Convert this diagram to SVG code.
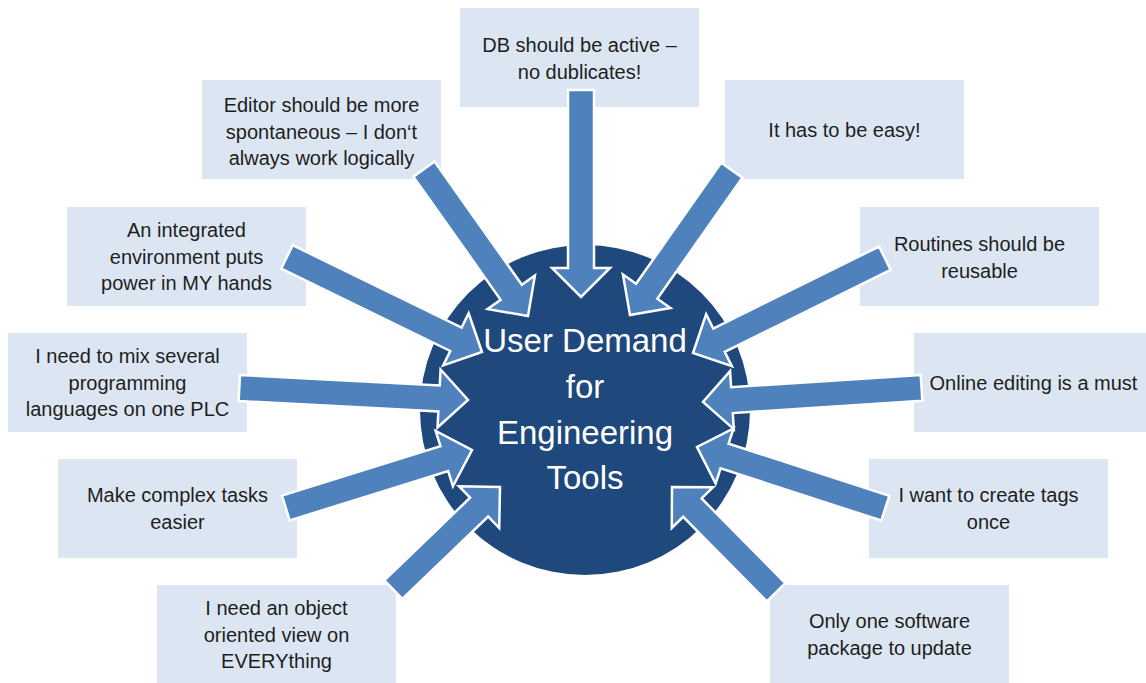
<svg xmlns="http://www.w3.org/2000/svg" width="1146" height="683" viewBox="0 0 1146 683">
<style>
.box{fill:#dce6f2}
.t{font-family:"Liberation Sans",Arial,sans-serif;font-size:20px;fill:#1e1e1e;text-anchor:middle}
.arrow{fill:#4f81bd;stroke:#ffffff;stroke-width:2.5;stroke-linejoin:miter}
.ct{font-family:"Liberation Sans",Arial,sans-serif;font-size:33px;fill:#ffffff;text-anchor:middle}
</style>
<rect width="1146" height="683" fill="#ffffff"/>
<g id="n-db"><rect class="box" x="460" y="8" width="239" height="99"/><text class="t" x="579.5" y="52">DB should be active –</text><text class="t" x="579.5" y="78.5">no dublicates!</text></g>
<g id="n-editor"><rect class="box" x="202" y="80" width="239" height="99"/><text class="t" x="321.5" y="112">Editor should be more</text><text class="t" x="321.5" y="138.5">spontaneous – I don‘t</text><text class="t" x="321.5" y="165">always work logically</text></g>
<g id="n-easy"><rect class="box" x="725" y="80" width="239" height="99"/><text class="t" x="844.5" y="137">It has to be easy!</text></g>
<g id="n-integrated"><rect class="box" x="67" y="207" width="239" height="99"/><text class="t" x="186.5" y="237">An integrated</text><text class="t" x="186.5" y="263.5">environment puts</text><text class="t" x="186.5" y="290">power in MY hands</text></g>
<g id="n-routines"><rect class="box" x="860" y="207" width="239" height="99"/><text class="t" x="979.5" y="251">Routines should be</text><text class="t" x="979.5" y="277.5">reusable</text></g>
<g id="n-mix"><rect class="box" x="8" y="333" width="239" height="99"/><text class="t" x="127.5" y="363">I need to mix several</text><text class="t" x="127.5" y="389.5">programming</text><text class="t" x="127.5" y="416">languages on one PLC</text></g>
<g id="n-online"><rect class="box" x="914" y="333" width="239" height="99"/><text class="t" x="1033.5" y="390">Online editing is a must</text></g>
<g id="n-complex"><rect class="box" x="58" y="459" width="239" height="99"/><text class="t" x="177.5" y="502">Make complex tasks</text><text class="t" x="177.5" y="528.5">easier</text></g>
<g id="n-tags"><rect class="box" x="869" y="459" width="239" height="99"/><text class="t" x="988.5" y="502">I want to create tags</text><text class="t" x="988.5" y="528.5">once</text></g>
<g id="n-object"><rect class="box" x="157" y="585" width="239" height="99"/><text class="t" x="276.5" y="615">I need an object</text><text class="t" x="276.5" y="641.5">oriented view on</text><text class="t" x="276.5" y="668">EVERYthing</text></g>
<g id="n-update"><rect class="box" x="770" y="585" width="239" height="99"/><text class="t" x="889.5" y="628">Only one software</text><text class="t" x="889.5" y="654.5">package to update</text></g>
<g id="n-center"><circle cx="585" cy="410" r="165" fill="#1f497d"/></g>
<g id="connectors">
<polygon class="arrow" transform="translate(581,297) rotate(90)" points="-207,-13 -29,-13 -29,-29 0,0 -29,29 -29,13 -207,13"/>
<polygon class="arrow" transform="translate(528,316) rotate(54.7)" points="-180,-13 -29,-13 -29,-29 0,0 -29,29 -29,13 -180,13"/>
<polygon class="arrow" transform="translate(630,315) rotate(125.1)" points="-177,-13 -29,-13 -29,-29 0,0 -29,29 -29,13 -177,13"/>
<polygon class="arrow" transform="translate(482,352) rotate(26)" points="-217,-13 -29,-13 -29,-29 0,0 -29,29 -29,13 -217,13"/>
<polygon class="arrow" transform="translate(468,400) rotate(3)" points="-229,-13 -29,-13 -29,-29 0,0 -29,29 -29,13 -229,13"/>
<polygon class="arrow" transform="translate(472,450) rotate(-17.3)" points="-195,-13 -29,-13 -29,-29 0,0 -29,29 -29,13 -195,13"/>
<polygon class="arrow" transform="translate(500,487) rotate(-43.9)" points="-148,-13 -29,-13 -29,-29 0,0 -29,29 -29,13 -148,13"/>
<polygon class="arrow" transform="translate(693,353) rotate(153.7)" points="-214,-13 -29,-13 -29,-29 0,0 -29,29 -29,13 -214,13"/>
<polygon class="arrow" transform="translate(703,402) rotate(176.3)" points="-219,-13 -29,-13 -29,-29 0,0 -29,29 -29,13 -219,13"/>
<polygon class="arrow" transform="translate(697,447) rotate(-162)" points="-198,-13 -29,-13 -29,-29 0,0 -29,29 -29,13 -198,13"/>
<polygon class="arrow" transform="translate(672,487) rotate(-134.7)" points="-148,-13 -29,-13 -29,-29 0,0 -29,29 -29,13 -148,13"/>
</g>
<g id="center-label">
<text class="ct" x="585" y="352">User Demand</text>
<text class="ct" x="585" y="398">for</text>
<text class="ct" x="585" y="444">Engineering</text>
<text class="ct" x="585" y="489">Tools</text>
</g>
</svg>
